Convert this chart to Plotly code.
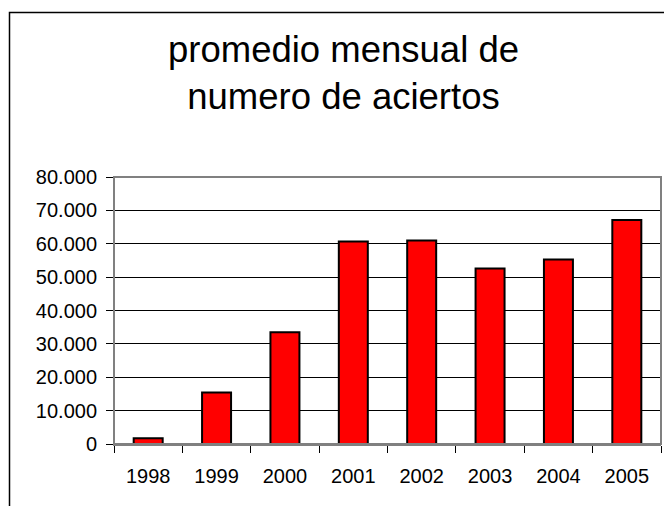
import plotly.graph_objects as go

years = ["1998", "1999", "2000", "2001", "2002", "2003", "2004", "2005"]
values = [1700, 15450, 33500, 60700, 61000, 52600, 55300, 67100]
y_ticks = [0, 10000, 20000, 30000, 40000, 50000, 60000, 70000, 80000]
title_text = "promedio mensual de<br>numero de aciertos"

# page body has an 8px margin, so the figure is drawn 8px in from the corner
OFF = 8
W, H = 672 - OFF, 506 - OFF
L, T = 114 - OFF, 177 - OFF
R = W - (661 - OFF)
B = H - (444 - OFF)
pw, ph = W - L - R, H - T - B

def px_x(x):
    return (x - OFF - L) / pw

def px_y(y):
    return (H - B - (y - OFF)) / ph

fig = go.Figure()
fig.add_trace(go.Bar(
    x=years, y=values,
    marker=dict(color="#FF0000", line=dict(color="#000000", width=2)),
))

font = "Liberation Sans, Arial, sans-serif"

fig.update_layout(
    width=W, height=H,
    margin=dict(l=L, r=R, t=T, b=B, pad=0),
    paper_bgcolor="white", plot_bgcolor="white",
    separators=",.",
    bargap=0.576,
    showlegend=False,
    font=dict(family=font, color="black", size=20),
    title=dict(text=title_text, x=(343.5 - OFF) / W, xanchor="center",
               y=1 - 54 / H, yanchor="top", yref="container",
               font=dict(family=font, size=36.5, color="black")),
)
fig.update_xaxes(
    type="category",
    showgrid=False,
    showline=True, linecolor="#808080", linewidth=2,
    ticks="outside", tickson="boundaries", ticklen=7, tickcolor="#000000", tickwidth=1,
    tickfont=dict(size=20, color="black"),
    ticklabelstandoff=13,
)
fig.update_yaxes(
    range=[0, 80000],
    tickvals=y_ticks, tickformat=",d",
    showgrid=True, gridcolor="#000000", gridwidth=1,
    showline=True, linecolor="#000000", linewidth=1,
    ticks="outside", ticklen=7, tickcolor="#000000", tickwidth=1,
    tickfont=dict(size=20, color="black"),
    ticklabelstandoff=5,
    zeroline=False,
)

# plot area border (gray, Excel-style)
fig.add_shape(type="rect", xref="paper", yref="paper", x0=0, x1=1, y0=0, y1=1,
              line=dict(color="#808080", width=2), layer="above")
# outer chart frame (left and top edges visible)
fig.add_shape(type="path", xref="paper", yref="paper",
              path=f"M {px_x(9.5)} {px_y(520)} L {px_x(9.5)} {px_y(12.5)} L {px_x(700)} {px_y(12.5)}",
              line=dict(color="#000000", width=1.5))

fig.write_html("out.html")
